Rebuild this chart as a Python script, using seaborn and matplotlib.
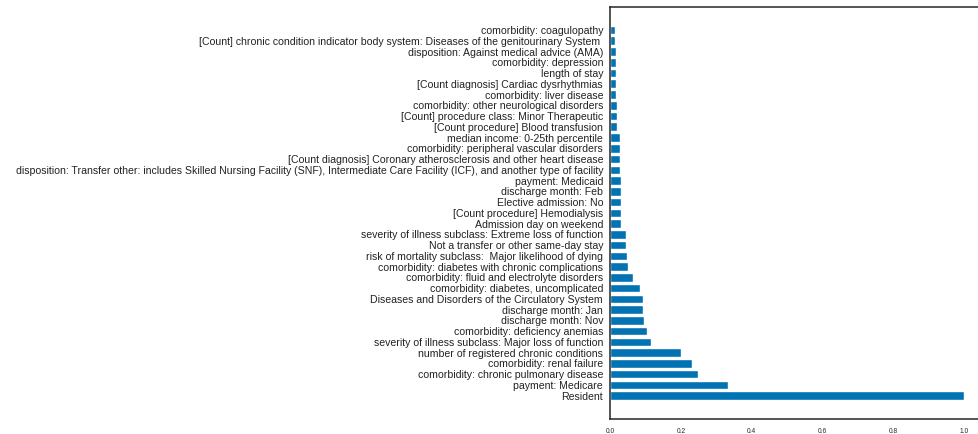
import matplotlib
matplotlib.use("Agg")
import matplotlib.pyplot as plt
import seaborn as sns

# Feature names, listed top to bottom
features = [
    "comorbidity: coagulopathy",
    "[Count] chronic condition indicator body system: Diseases of the genitourinary System ",
    "disposition: Against medical advice (AMA)",
    "comorbidity: depression",
    "length of stay",
    "[Count diagnosis] Cardiac dysrhythmias",
    "comorbidity: liver disease",
    "comorbidity: other neurological disorders",
    "[Count] procedure class: Minor Therapeutic",
    "[Count procedure] Blood transfusion",
    "median income: 0-25th percentile",
    "comorbidity: peripheral vascular disorders",
    "[Count diagnosis] Coronary atherosclerosis and other heart disease",
    "disposition: Transfer other: includes Skilled Nursing Facility (SNF), Intermediate Care Facility (ICF), and another type of facility",
    "payment: Medicaid",
    "discharge month: Feb",
    "Elective admission: No",
    "[Count procedure] Hemodialysis",
    "Admission day on weekend",
    "severity of illness subclass: Extreme loss of function",
    "Not a transfer or other same-day stay",
    "risk of mortality subclass:  Major likelihood of dying",
    "comorbidity: diabetes with chronic complications",
    "comorbidity: fluid and electrolyte disorders",
    "comorbidity: diabetes, uncomplicated",
    "Diseases and Disorders of the Circulatory System",
    "discharge month: Jan",
    "discharge month: Nov",
    "comorbidity: deficiency anemias",
    "severity of illness subclass: Major loss of function",
    "number of registered chronic conditions",
    "comorbidity: renal failure",
    "comorbidity: chronic pulmonary disease",
    "payment: Medicare",
    "Resident",
]

# Relative importance of each feature (same order)
importance = [
    0.013, 0.015, 0.016, 0.016, 0.017, 0.018, 0.018, 0.019, 0.019, 0.020,
    0.027, 0.029, 0.029, 0.029, 0.030, 0.031, 0.031, 0.032, 0.032, 0.044,
    0.046, 0.049, 0.050, 0.066, 0.084, 0.092, 0.093, 0.097, 0.105, 0.116,
    0.199, 0.232, 0.249, 0.333, 1.000,
]

xticks = [0.0, 0.2, 0.4, 0.6, 0.8, 1.0]

sns.set_style("white")
plt.rcParams["font.family"] = ["Liberation Sans", "DejaVu Sans"]

fig = plt.figure(figsize=(9.79, 4.34), dpi=100)
ax = fig.add_axes([0.6231, 0.0353, 0.380, 0.9486])

sns.barplot(x=importance, y=features, orient="h", color="#0173B2",
            saturation=1, width=0.8, ax=ax)

n = len(features)
pad = 0.05 * (n - 1 + 0.8)
ax.set_ylim(n - 1 + 0.4 + pad, -0.4 - pad)
ax.set_xlim(0, 1.05)
ax.set_xticks(xticks)
ax.set_xticklabels([f"{t:.1f}" for t in xticks])
ax.tick_params(axis="x", labelsize=4.8, pad=3)
ax.tick_params(axis="y", labelsize=7.6, pad=1.5, labelcolor="#222222")
ax.set_xlabel("")
ax.set_ylabel("")
for s in ax.spines.values():
    s.set_color(".15")
    s.set_linewidth(1.1)

fig.savefig("out.png", dpi=100)
